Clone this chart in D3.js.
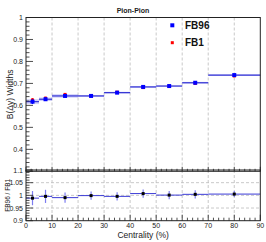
<!DOCTYPE html>
<html>
<head>
<meta charset="utf-8">
<script src="https://cdn.jsdelivr.net/npm/d3@7"></script>
<style>
  body { margin: 0; background: #fff; }
  svg { display: block; font-family: "Liberation Sans", Arial, sans-serif; }
</style>
</head>
<body>
<div id="chart"></div>
<script>
const W = 266, H = 242

// centrality bins
const binEdges = [0, 5, 10, 20, 30, 40, 50, 60, 70, 90]
const binCenters = [2.5, 7.5, 15, 25, 35, 45, 55, 65, 80]

// B(dy) widths
const fb96 = [0.617, 0.628, 0.643, 0.643, 0.658, 0.684, 0.688, 0.703, 0.738]
const fb96Err = [0.011, 0.008, 0.008, 0.004, 0.004, 0.004, 0.003, 0.004, 0.003]
const fb1 = [0.625, 0.633, 0.650, 0.644, 0.660, 0.681, 0.687, 0.700, 0.734]
const fb1Err = [0.008, 0.006, 0.005, 0.004, 0.004, 0.003, 0.003, 0.003, 0.003]

// ratio FB96 / FB1
const ratio = [0.989, 0.996, 0.991, 0.999, 0.996, 1.007, 1.001, 1.004, 1.005]
const ratioErr = [0.028, 0.026, 0.02, 0.016, 0.016, 0.016, 0.016, 0.016, 0.012]

const xTicks = [0, 10, 20, 30, 40, 50, 60, 70, 80, 90]
const topYTicks = [0.4, 0.5, 0.6, 0.7, 0.8, 0.9, 1]
const botYTicks = [0.9, 0.95, 1, 1.05, 1.1]

const seriesNames = ["FB96", "FB1"]
const seriesColors = ["#0000ff", "#ff0000"]

const svg = d3.select("#chart").append("svg")
    .attr("width", W)
    .attr("height", H)

const x = d3.scaleLinear().domain([0, 90]).range([26, 260.3])
const yTop = d3.scaleLinear().domain([0.3, 1]).range([171.3, 17.5])
const yBot = d3.scaleLinear().domain([0.9, 1.1]).range([220.7, 170])

const gridColor = "#bbb"

//  GRID  ////////////////////////////////////////////////
const grid = svg.append("g")
grid.selectAll("line.vt").data(xTicks.slice(1, -1)).join("line")
    .attr("x1", d => x(d)).attr("x2", d => x(d))
    .attr("y1", yTop.range()[1]).attr("y2", yTop.range()[0])
    .attr("stroke", gridColor).attr("stroke-dasharray", "3,2").attr("stroke-width", 0.8)
grid.selectAll("line.vb").data(xTicks.slice(1, -1)).join("line")
    .attr("x1", d => x(d)).attr("x2", d => x(d))
    .attr("y1", yBot.range()[1]).attr("y2", yBot.range()[0])
    .attr("stroke", gridColor).attr("stroke-dasharray", "3,2").attr("stroke-width", 0.8)
grid.selectAll("line.hb").data(botYTicks.slice(1, -1)).join("line")
    .attr("x1", x.range()[0]).attr("x2", x.range()[1])
    .attr("y1", d => yBot(d)).attr("y2", d => yBot(d))
    .attr("stroke", gridColor).attr("stroke-dasharray", "3,2").attr("stroke-width", 0.8)

//  TOP PAD DATA  /////////////////////////////////////////
const bins = fb96.map((v, i) => ({
    lo: binEdges[i], hi: binEdges[i + 1], c: binCenters[i],
    v, e: fb96Err[i], v1: fb1[i], e1: fb1Err[i], r: ratio[i], re: ratioErr[i]
}))

const topPad = svg.append("g")
// error band
topPad.selectAll("rect.band").data(bins).join("rect")
    .attr("x", d => x(d.lo)).attr("width", d => x(d.hi) - x(d.lo))
    .attr("y", d => yTop(d.v + d.e)).attr("height", d => yTop(d.v - d.e) - yTop(d.v + d.e))
    .attr("fill", "#8c8cf0").attr("fill-opacity", 0.4)

topPad.selectAll("line.h96").data(bins).join("line")
    .attr("x1", d => x(d.lo)).attr("x2", d => x(d.hi))
    .attr("y1", d => yTop(d.v)).attr("y2", d => yTop(d.v))
    .attr("stroke", "#3232d4").attr("stroke-width", 1.2)

// FB1 (red) points
topPad.selectAll("line.e1").data(bins).join("line")
    .attr("x1", d => x(d.c)).attr("x2", d => x(d.c))
    .attr("y1", d => yTop(d.v1 - d.e1)).attr("y2", d => yTop(d.v1 + d.e1))
    .attr("stroke", "#ff0000").attr("stroke-width", 1)
topPad.selectAll("rect.p1").data(bins).join("rect")
    .attr("x", d => x(d.c) - 1.5).attr("y", d => yTop(d.v1) - 1.5)
    .attr("width", 3).attr("height", 3).attr("fill", "#ff0000")

// FB96 (blue) points
topPad.selectAll("line.e96").data(bins).join("line")
    .attr("x1", d => x(d.c)).attr("x2", d => x(d.c))
    .attr("y1", d => yTop(d.v - d.e)).attr("y2", d => yTop(d.v + d.e))
    .attr("stroke", "#0000ff").attr("stroke-width", 1)
topPad.selectAll("rect.p96").data(bins).join("rect")
    .attr("x", d => x(d.c) - 2).attr("y", d => yTop(d.v) - 2)
    .attr("width", 4).attr("height", 4).attr("fill", "#0000ff")

//  BOTTOM PAD DATA  //////////////////////////////////////
const botPad = svg.append("g")
botPad.selectAll("line.hr").data(bins).join("line")
    .attr("x1", d => x(d.lo)).attr("x2", d => x(d.hi))
    .attr("y1", d => yBot(d.r)).attr("y2", d => yBot(d.r))
    .attr("stroke", "#3b3bd6").attr("stroke-width", 1)
botPad.selectAll("line.re").data(bins).join("line")
    .attr("x1", d => x(d.c)).attr("x2", d => x(d.c))
    .attr("y1", d => yBot(d.r - d.re)).attr("y2", d => yBot(d.r + d.re))
    .attr("stroke", "#7c7cf0").attr("stroke-width", 1.2)
botPad.selectAll("rect.rp").data(bins).join("rect")
    .attr("x", d => x(d.c) - 1.5).attr("y", d => yBot(d.r) - 1.5)
    .attr("width", 3).attr("height", 3).attr("fill", "#000")

//  FRAMES & AXES  ////////////////////////////////////////
function frame(yScale) {
    svg.append("rect")
        .attr("x", x.range()[0]).attr("y", yScale.range()[1])
        .attr("width", x.range()[1] - x.range()[0])
        .attr("height", yScale.range()[0] - yScale.range()[1])
        .attr("fill", "none").attr("stroke", "#222").attr("stroke-width", 1)
}
frame(yTop)
frame(yBot)

function ticks(vals, fn, len) {
    const g = svg.append("g").attr("stroke", "#222").attr("stroke-width", 0.8)
    vals.forEach(v => {
        const [x1, y1, x2, y2] = fn(v, len)
        g.append("line").attr("x1", x1).attr("y1", y1).attr("x2", x2).attr("y2", y2)
    })
}
const x0 = x.range()[0]
// top y axis
ticks(topYTicks.concat([0.3]), (v, l) => [x0, yTop(v), x0 + l, yTop(v)], 7)
ticks(d3.range(0.32, 1, 0.02).filter(v => Math.abs(v * 10 - Math.round(v * 10)) > 0.01),
    (v, l) => [x0, yTop(v), x0 + l, yTop(v)], 3.5)
// top x axis (bottom of top pad)
ticks(xTicks, (v, l) => [x(v), yTop.range()[0], x(v), yTop.range()[0] - l], 4.5)
ticks(d3.range(2, 90, 2).filter(v => v % 10 !== 0),
    (v, l) => [x(v), yTop.range()[0], x(v), yTop.range()[0] - l], 2.5)
// bottom y axis
ticks(botYTicks, (v, l) => [x0, yBot(v), x0 + l, yBot(v)], 7)
ticks(d3.range(0.91, 1.1, 0.01).filter(v => Math.abs(v * 20 - Math.round(v * 20)) > 0.01),
    (v, l) => [x0, yBot(v), x0 + l, yBot(v)], 3.5)
// bottom x axis
ticks(xTicks, (v, l) => [x(v), yBot.range()[0], x(v), yBot.range()[0] - l], 6)
ticks(d3.range(2, 90, 2).filter(v => v % 10 !== 0),
    (v, l) => [x(v), yBot.range()[0], x(v), yBot.range()[0] - l], 3)

//  LABELS  ///////////////////////////////////////////////
const lab = svg.append("g").attr("fill", "#222").attr("font-size", 7)
lab.selectAll("text.yt").data(topYTicks).join("text")
    .attr("x", x0 - 3).attr("y", d => yTop(d) + 2.5)
    .attr("text-anchor", "end")
    .text(d => d === 1 ? "1" : d3.format(".1f")(d))
lab.selectAll("text.yb").data(botYTicks).join("text")
    .attr("x", x0 - 3).attr("y", d => yBot(d) + 2.5)
    .attr("text-anchor", "end")
    .text(d => (d === 1 ? "1" : String(d)))
lab.selectAll("text.xb").data(xTicks).join("text")
    .attr("x", d => x(d)).attr("y", yBot.range()[0] + 7)
    .attr("text-anchor", "middle")
    .text(d => d)

svg.append("text")
    .attr("x", 133).attr("y", 12.5)
    .attr("text-anchor", "middle").attr("font-size", 7).attr("font-weight", "bold")
    .attr("fill", "#222")
    .text("Pion-Pion")

svg.append("text")
    .attr("transform", `translate(13,${(yTop.range()[0] + yTop.range()[1]) / 2}) rotate(-90)`)
    .attr("text-anchor", "middle").attr("font-size", 8.5).attr("fill", "#222")
    .text("B(Δy) Widths")

svg.append("text")
    .attr("transform", `translate(9.5,${(yBot.range()[0] + yBot.range()[1]) / 2}) rotate(-90)`)
    .attr("text-anchor", "middle").attr("font-size", 6.5).attr("fill", "#222")
    .text("FB96 / FB1")

svg.append("text")
    .attr("x", (x.range()[0] + x.range()[1]) / 2).attr("y", 238)
    .attr("text-anchor", "middle").attr("font-size", 8.5).attr("fill", "#222")
    .text("Centrality (%)")

//  LEGEND  ///////////////////////////////////////////////
const leg = svg.append("g")
seriesNames.forEach((name, i) => {
    const cy = 25.3 + i * 17.4
    leg.append("rect")
        .attr("x", 172.3 - (i ? 1.5 : 2)).attr("y", cy - (i ? 1.5 : 2))
        .attr("width", i ? 3 : 4).attr("height", i ? 3 : 4)
        .attr("fill", seriesColors[i])
    leg.append("text")
        .attr("x", 185).attr("y", cy + 3.7)
        .attr("font-size", 10).attr("font-weight", "bold").attr("fill", "#111")
        .text(name)
})
</script>
</body>
</html>
